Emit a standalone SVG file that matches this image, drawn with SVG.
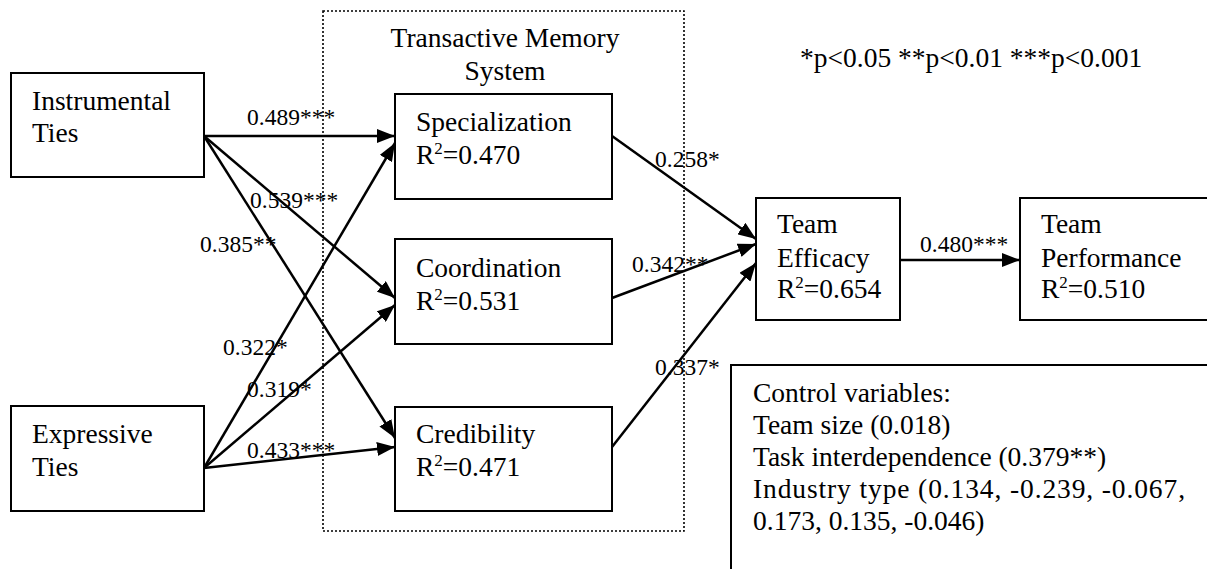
<svg xmlns="http://www.w3.org/2000/svg" width="1207" height="569" viewBox="0 0 1207 569">
<defs>
<style>
.box{fill:#fff;stroke:#000;stroke-width:2}
.t{font-family:"Liberation Serif","Times New Roman",serif;font-size:27.5px;fill:#000}
.l{font-family:"Liberation Serif","Times New Roman",serif;font-size:23.5px;fill:#000}
.e{stroke:#000;stroke-width:2.5;fill:none;marker-end:url(#ah)}
.dot{fill:none;stroke:#000;stroke-width:1.6;stroke-dasharray:2,2}
</style>
<marker id="ah" markerUnits="userSpaceOnUse" markerWidth="20" markerHeight="14" refX="18" refY="7" orient="auto">
<path d="M0,0 L18,7 L0,14 z" fill="#000"/>
</marker>
</defs>
<rect width="1207" height="569" fill="#fff"/>
<g id="tms-frame">
<rect class="dot" x="323" y="11" width="361" height="520"/>
<text class="t" x="505" y="47" text-anchor="middle">Transactive Memory</text>
<text class="t" x="505" y="80" text-anchor="middle">System</text>
</g>
<g id="connectors">
<line class="e" x1="204" y1="136" x2="395" y2="136"/>
<line class="e" x1="204" y1="136" x2="395" y2="298"/>
<line class="e" x1="204" y1="136" x2="395" y2="438"/>
<line class="e" x1="204" y1="468" x2="395" y2="143"/>
<line class="e" x1="204" y1="468" x2="395" y2="305"/>
<line class="e" x1="204" y1="468" x2="395" y2="447"/>
<line class="e" x1="612" y1="136" x2="756" y2="239"/>
<line class="e" x1="612" y1="298" x2="756" y2="244"/>
<line class="e" x1="612" y1="447" x2="756" y2="263"/>
<line class="e" x1="900" y1="260" x2="1020" y2="260"/>
</g>
<g id="labels">
<text class="l" x="247" y="125">0.489***</text>
<text class="l" x="250" y="208">0.539***</text>
<text class="l" x="200" y="252">0.385**</text>
<text class="l" x="223" y="355">0.322*</text>
<text class="l" x="247" y="397">0.319*</text>
<text class="l" x="247" y="458">0.433***</text>
<text class="l" x="655" y="167">0.258*</text>
<text class="l" x="632" y="272">0.342**</text>
<text class="l" x="655" y="375">0.337*</text>
<text class="l" x="920" y="252">0.480***</text>
</g>
<g id="instrumental">
<rect class="box" x="11" y="73" width="193" height="104"/>
<text class="t" x="32" y="110">Instrumental</text>
<text class="t" x="32" y="142">Ties</text>
</g>
<g id="expressive">
<rect class="box" x="11" y="406" width="193" height="105"/>
<text class="t" x="32" y="443">Expressive</text>
<text class="t" x="32" y="476">Ties</text>
</g>
<g id="specialization">
<rect class="box" x="395" y="94" width="217" height="105"/>
<text class="t" x="416" y="131">Specialization</text>
<text class="t" x="416" y="164">R<tspan font-size="17" dy="-10">2</tspan><tspan dy="10">=0.470</tspan></text>
</g>
<g id="coordination">
<rect class="box" x="395" y="239" width="217" height="105"/>
<text class="t" x="416" y="277">Coordination</text>
<text class="t" x="416" y="310">R<tspan font-size="17" dy="-10">2</tspan><tspan dy="10">=0.531</tspan></text>
</g>
<g id="credibility">
<rect class="box" x="395" y="407" width="217" height="104"/>
<text class="t" x="416" y="443">Credibility</text>
<text class="t" x="416" y="476">R<tspan font-size="17" dy="-10">2</tspan><tspan dy="10">=0.471</tspan></text>
</g>
<g id="team-efficacy">
<rect class="box" x="756" y="198" width="144" height="122"/>
<text class="t" x="777" y="233">Team</text>
<text class="t" x="777" y="267">Efficacy</text>
<text class="t" x="777" y="298">R<tspan font-size="17" dy="-10">2</tspan><tspan dy="10">=0.654</tspan></text>
</g>
<g id="team-performance">
<rect class="box" x="1020" y="198" width="200" height="122"/>
<text class="t" x="1041" y="233">Team</text>
<text class="t" x="1041" y="267">Performance</text>
<text class="t" x="1041" y="298">R<tspan font-size="17" dy="-10">2</tspan><tspan dy="10">=0.510</tspan></text>
</g>
<g id="significance">
<text class="t" x="800" y="67">*p&lt;0.05 **p&lt;0.01 ***p&lt;0.001</text>
</g>
<g id="control-variables">
<rect class="box" x="731" y="365" width="500" height="250"/>
<text class="t" x="753" y="402">Control variables:</text>
<text class="t" x="753" y="434">Team size (0.018)</text>
<text class="t" x="753" y="466">Task interdependence (0.379**)</text>
<text class="t" x="753" y="498" textLength="432" lengthAdjust="spacing">Industry type (0.134, -0.239, -0.067,</text>
<text class="t" x="753" y="530">0.173, 0.135, -0.046)</text>
</g>
</svg>
